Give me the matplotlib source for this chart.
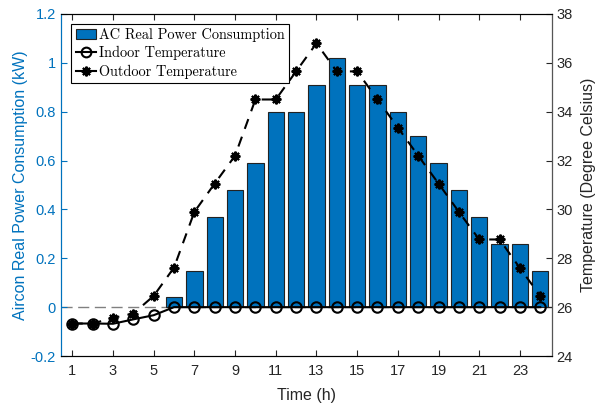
import matplotlib
matplotlib.use("Agg")
from matplotlib import pyplot as plt
from matplotlib.patches import Patch
from matplotlib.lines import Line2D

# hourly data
hours = list(range(1, 25))
ac_power = [0, 0, 0, 0, 0, 0.04, 0.15, 0.37, 0.48, 0.59, 0.80, 0.80,
            0.91, 1.02, 0.91, 0.91, 0.80, 0.70, 0.59, 0.48, 0.37, 0.26, 0.26, 0.15]
indoor_temp = [25.33, 25.33, 25.32, 25.5, 25.67, 26, 26, 26, 26, 26, 26, 26,
               26, 26, 26, 26, 26, 26, 26, 26, 26, 26, 26, 26]
outdoor_temp = [25.33, 25.33, 25.56, 25.74, 26.46, 27.62, 29.9, 31.06, 32.2, 34.5, 34.5, 35.65,
                36.8, 35.65, 35.65, 34.5, 33.35, 32.2, 31.06, 29.9, 28.77, 28.77, 27.6, 26.46]
xticks = list(range(1, 24, 2))
power_ticks = [-0.2, 0, 0.2, 0.4, 0.6, 0.8, 1, 1.2]
power_ticklabels = ['-0.2', '0', '0.2', '0.4', '0.6', '0.8', '1', '1.2']
temp_ticks = list(range(24, 39, 2))

blue = '#0072BD'
dark = '#262626'
plt.rcParams['font.family'] = 'Liberation Sans'
plt.rcParams['xtick.direction'] = 'in'
plt.rcParams['ytick.direction'] = 'in'

fig = plt.figure(figsize=(5.98, 4.03), dpi=100)
ax1 = fig.add_axes([0.1015, 0.1166, 0.821, 0.8487])
ax2 = ax1.twinx()

# bars on the power axis (zero-height bars are not drawn, like matlab)
ax1.axhline(0, color='#808080', lw=1.0, dashes=(8, 4), zorder=1)
nz_hours = [h for h, p in zip(hours, ac_power) if p > 0]
nz_power = [p for p in ac_power if p > 0]
ax1.bar(nz_hours, nz_power, width=0.8, color=blue, edgecolor='#222222', linewidth=0.8, zorder=2)
ax1.set_xlim(0.43, 24.56)
ax1.set_ylim(-0.2, 1.2)
ax1.set_yticks(power_ticks)
ax1.set_yticklabels(power_ticklabels)
ax1.set_xticks(xticks)
ax1.tick_params(axis='y', colors=blue, labelsize=10.5, length=4)
ax1.tick_params(axis='x', colors=dark, labelsize=10.5, length=4, top=True, pad=6)
ax1.set_ylabel('Aircon Real Power Consumption (kW)', color=blue, fontsize=11.5, labelpad=2)
ax1.set_xlabel('Time (h)', color=dark, fontsize=11.5, labelpad=7)
for s in ['top', 'bottom']:
    ax1.spines[s].set_color(dark)
ax1.spines['left'].set_color(blue)

# temperatures on the right axis
ax2.plot(hours, outdoor_temp, color='k', ls='--', lw=1.5, dashes=(5, 4),
         marker=(8, 2, 0), markersize=7, markeredgewidth=1.5)
ax2.plot(hours, indoor_temp, color='k', ls='-', lw=1.5,
         marker='o', markersize=7.5, markerfacecolor='none', markeredgewidth=1.5)
ax2.set_ylim(24, 38)
ax2.set_yticks(temp_ticks)
ax2.tick_params(axis='y', colors=dark, labelsize=10.5, length=4)
ax2.set_ylabel('Temperature (Degree Celsius)', color=dark, fontsize=11.5, labelpad=6)
ax2.spines['right'].set_color('#555555')
ax2.spines['left'].set_color(blue)

handles = [Patch(facecolor=blue, edgecolor='#222222', linewidth=0.8),
           Line2D([], [], color='k', lw=1.5, marker='o', markersize=7, markerfacecolor='none', markeredgewidth=1.5),
           Line2D([], [], color='k', lw=1.5, marker=(8, 2, 0), markersize=7, markeredgewidth=1.5)]
labels = ['AC Real Power Consumption', 'Indoor Temperature', 'Outdoor Temperature']
leg = ax2.legend(handles, labels, loc='upper left', bbox_to_anchor=(0.022, 0.972),
                 prop={'family': 'cmr10', 'size': 10.3}, frameon=True, fancybox=False,
                 edgecolor='k', framealpha=1, handlelength=1.4, handletextpad=0.2,
                 borderpad=0.3, labelspacing=0.3, borderaxespad=0)
leg.get_frame().set_linewidth(0.8)

fig.savefig('out.png', dpi=100)
